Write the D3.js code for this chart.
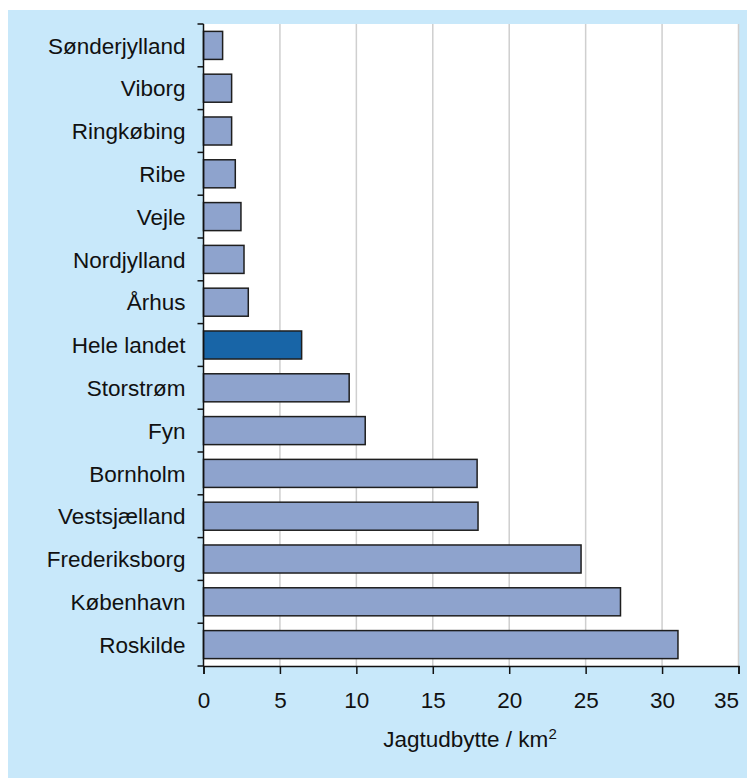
<!DOCTYPE html>
<html>
<head>
<meta charset="utf-8">
<script src="https://cdn.jsdelivr.net/npm/d3@7"></script>
<style>
  html, body { margin: 0; padding: 0; background: #ffffff; }
  svg { display: block; }
  text { font-family: "Liberation Sans", Arial, Helvetica, sans-serif; fill: #111; }
</style>
</head>
<body>
<svg id="chart" width="747" height="778"></svg>
<script>
const categories = ["Sønderjylland","Viborg","Ringkøbing","Ribe","Vejle","Nordjylland","Århus","Hele landet","Storstrøm","Fyn","Bornholm","Vestsjælland","Frederiksborg","København","Roskilde"];
const values = [1.25, 1.84, 1.84, 2.08, 2.45, 2.65, 2.93, 6.42, 9.53, 10.58, 17.9, 17.96, 24.7, 27.28, 31.04];
const highlight = ["Hele landet"];
const xTicks = [0, 5, 10, 15, 20, 25, 30, 35];
const xTitle = "Jagtudbytte / km";
const xTitleSup = "2";

const svg = d3.select("#chart");
const W = 747, H = 778;
const margin = { left: 203.5, right: 8.5, top: 24, bottom: 112 };

svg.append("rect").attr("x", 8).attr("y", 10).attr("width", W - 8).attr("height", H - 10).attr("fill", "#c8e8fa");

const x = d3.scaleLinear().domain([0, 35]).range([margin.left, W - margin.right]);
const y = d3.scaleBand().domain(categories).range([margin.top, H - margin.bottom]).paddingInner(0.345).paddingOuter(0.1725);

// plot area
svg.append("rect").attr("x", x(0)).attr("y", margin.top).attr("width", x(35) - x(0)).attr("height", (H - margin.bottom) - margin.top).attr("fill", "#ffffff");

// gridlines
svg.append("g").selectAll("line").data(xTicks.filter(d => d > 0)).join("line")
  .attr("x1", d => x(d)).attr("x2", d => x(d))
  .attr("y1", margin.top).attr("y2", H - margin.bottom)
  .attr("stroke", "#cfcfcf").attr("stroke-width", 1.5);

// bars
svg.append("g").selectAll("rect").data(categories).join("rect")
  .attr("x", x(0))
  .attr("y", d => y(d))
  .attr("width", (d, i) => x(values[i]) - x(0))
  .attr("height", y.bandwidth())
  .attr("fill", d => highlight.includes(d) ? "#1865a7" : "#8ea3cd")
  .attr("stroke", "#1e1e1e").attr("stroke-width", 1.5);

// y axis
const yAxisG = svg.append("g");
yAxisG.append("line").attr("x1", x(0)).attr("x2", x(0)).attr("y1", margin.top).attr("y2", H - margin.bottom).attr("stroke", "#111").attr("stroke-width", 1.5);
const bounds = d3.range(categories.length + 1).map(i => margin.top + i * y.step());
yAxisG.selectAll("line.tick").data(bounds).join("line").attr("class", "tick")
  .attr("x1", x(0) - 6).attr("x2", x(0))
  .attr("y1", d => d).attr("y2", d => d)
  .attr("stroke", "#111").attr("stroke-width", 1.5);
yAxisG.selectAll("text").data(categories).join("text")
  .attr("x", x(0) - 18)
  .attr("y", d => y(d) + y.bandwidth() / 2)
  .attr("dy", "0.36em")
  .attr("text-anchor", "end")
  .attr("font-size", 22.5)
  .text(d => d);

// x axis
const xAxis = d3.axisBottom(x).tickValues(xTicks).tickSize(8).tickPadding(18).tickFormat(d3.format("d"));
const xg = svg.append("g").attr("transform", `translate(0,${H - margin.bottom})`).call(xAxis);
xg.select(".domain").attr("stroke", "#111").attr("stroke-width", 1.5);
xg.selectAll(".tick line").attr("stroke", "#111").attr("stroke-width", 1.5);
xg.selectAll(".tick text").attr("font-size", 22.5).attr("font-family", "Liberation Sans, Arial, sans-serif").attr("fill", "#111");
xg.selectAll(".tick").filter(d => d === 35).select("text").attr("text-anchor", "end").attr("x", 0);

// x title
const t = svg.append("text").attr("x", (x(0) + x(35)) / 2 - 1).attr("y", 747).attr("text-anchor", "middle").attr("font-size", 22.5);
t.append("tspan").text(xTitle);
t.append("tspan").attr("font-size", 15).attr("dy", -8).text(xTitleSup);
</script>
</body>
</html>
